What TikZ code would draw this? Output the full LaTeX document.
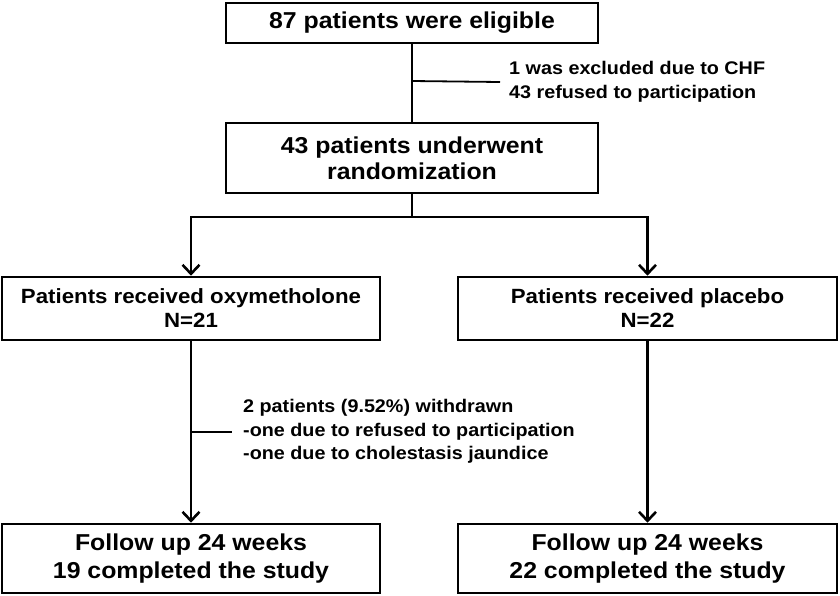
\documentclass[tikz,border=0pt]{standalone}
\usepackage{fontspec}
\setmainfont{Liberation Sans}[FakeStretch=1.08]
\usetikzlibrary{arrows.meta}
\begin{document}
\begin{tikzpicture}[x=1pt,y=-1pt,
  box/.style={draw=black,line width=2.6pt,rectangle,inner sep=0pt,align=center,font=\bfseries},
  big/.style={font=\bfseries\fontsize{23}{26}\selectfont},
  mid/.style={font=\bfseries\fontsize{20.6}{24}\selectfont},
  bot/.style={font=\bfseries\fontsize{23}{28}\selectfont},
  note/.style={inner sep=0pt,align=left,anchor=west,font=\bfseries\fontsize{18.3}{23.5}\selectfont},
  conn/.style={line width=2.6pt},
  arr/.style={line width=2.6pt,-{Straight Barb[length=9pt,width=17pt,line width=2.6pt]}},
  tick/.style={line width=1.8pt}]
\useasboundingbox (0,0) rectangle (840,595);
\node[box,big,minimum width=372pt,minimum height=40pt] (b1) at (412,23) {87 patients were eligible};
\node[box,big,minimum width=372pt,minimum height=70pt] (b2) at (412,158) {43 patients underwent\\randomization};
\node[box,mid,minimum width=378pt,minimum height=63pt] (l1) at (191,308.5) {Patients received oxymetholone\\N=21};
\node[box,mid,minimum width=379pt,minimum height=63pt] (r1) at (647.5,308.5) {Patients received placebo\\N=22};
\node[box,bot,minimum width=378pt,minimum height=69pt] (l2) at (191,558.5) {Follow up 24 weeks\\19 completed the study};
\node[box,bot,minimum width=379pt,minimum height=69pt] (r2) at (647.5,558.5) {Follow up 24 weeks\\22 completed the study};
\node[note] (n1) at (509,82) {1 was excluded due to CHF\\43 refused to participation};
\node[note] (n2) at (243,431.5) {2 patients (9.52\%) withdrawn\\-one due to refused to participation\\-one due to cholestasis jaundice};
\coordinate (split) at (412,217);
\coordinate (t1a) at (412,81);
\coordinate (t2a) at (191,432);
\draw[conn] (b1) -- (b2);
\draw[tick] (t1a) -- (n1.west -| 500,0);
\draw[conn] (b2.south) -- (split);
\draw[arr] (split) -| (l1.north);
\draw[arr] (split) -| (r1.north);
\draw[arr] (l1) -- (l2);
\draw[arr] (r1) -- (r2);
\draw[tick] (t2a) -- (232,432);
\end{tikzpicture}
\end{document}
